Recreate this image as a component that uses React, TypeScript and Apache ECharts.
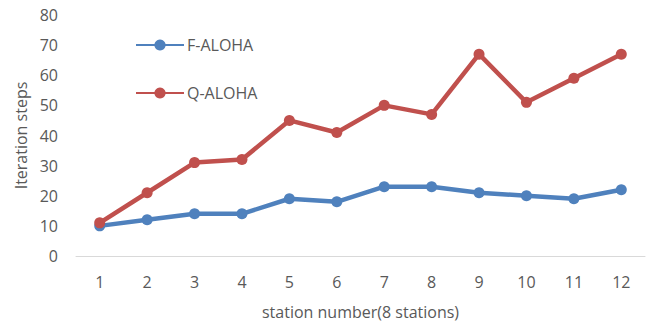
import React, { useEffect, useRef } from "react";
import * as echarts from "echarts";

const categories = ["1", "2", "3", "4", "5", "6", "7", "8", "9", "10", "11", "12"];
const fAloha = [10, 12, 14, 14, 19, 18, 23, 23, 21, 20, 19, 22];
const qAloha = [11, 21, 31, 32, 45, 41, 50, 47, 67, 51, 59, 67];
const seriesNames = ["F-ALOHA", "Q-ALOHA"];

const FONT = "'Open Sans', sans-serif";
const TEXT = "#595959";

export default function App() {
  const ref = useRef<HTMLDivElement>(null);
  useEffect(() => {
    if (!ref.current) return;
    const chart = echarts.init(ref.current, null, { renderer: "svg" });
    chart.setOption({
      animation: false,
      backgroundColor: "#ffffff",
      textStyle: { fontFamily: FONT },
      legend: {
        orient: "vertical",
        left: 130,
        top: 32,
        itemWidth: 48,
        itemHeight: 14,
        itemGap: 32,
        data: seriesNames,
        textStyle: { color: TEXT, fontSize: 16, fontFamily: FONT, padding: [0, 0, 0, -2] },
      },
      grid: { left: 76, right: 12, top: 15, bottom: 69, outerBoundsMode: "none", containLabel: false },
      xAxis: {
        type: "category",
        data: categories,
        boundaryGap: true,
        axisLine: { show: true, lineStyle: { color: "#d9d9d9", width: 1 } },
        axisTick: { show: false },
        axisLabel: { color: TEXT, fontSize: 16, margin: 18, fontFamily: FONT },
        name: "station number(8 stations)",
        nameLocation: "middle",
        nameGap: 48,
        nameTextStyle: { color: TEXT, fontSize: 16, fontFamily: FONT },
      },
      yAxis: {
        type: "value",
        min: 0,
        max: 80,
        interval: 10,
        axisLine: { show: false },
        axisTick: { show: false },
        splitLine: { show: false },
        axisLabel: { color: TEXT, fontSize: 16, margin: 18, fontFamily: FONT },
        name: "Iteration steps",
        nameLocation: "middle",
        nameGap: 47,
        nameRotate: 90,
        nameTextStyle: { color: TEXT, fontSize: 16, fontFamily: FONT },
      },
      series: [
        {
          name: seriesNames[0],
          type: "line",
          data: fAloha,
          symbol: "circle",
          symbolSize: 11,
          color: "#4F81BD",
          lineStyle: { width: 4.5, color: "#4F81BD" },
          itemStyle: { color: "#4F81BD" },
        },
        {
          name: seriesNames[1],
          type: "line",
          data: qAloha,
          symbol: "circle",
          symbolSize: 11,
          color: "#C0504D",
          lineStyle: { width: 4.5, color: "#C0504D" },
          itemStyle: { color: "#C0504D" },
        },
      ],
    });
    return () => chart.dispose();
  }, []);
  return <div ref={ref} style={{ width: 657, height: 325, position: "absolute", left: 0, top: 0 }} />;
}
